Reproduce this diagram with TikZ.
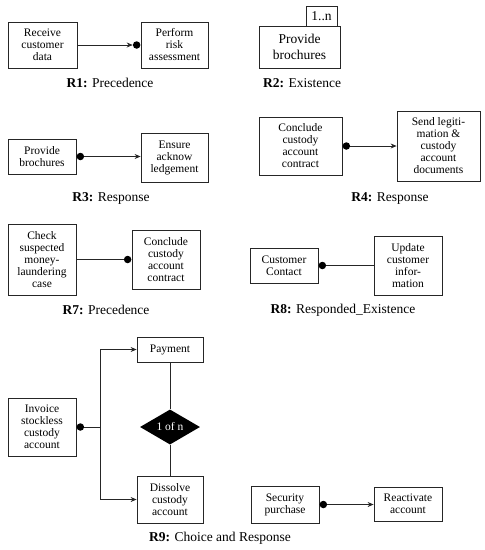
\documentclass[tikz,border=0pt]{standalone}
\usepackage{fontspec}
\setmainfont{Liberation Serif}
\usetikzlibrary{arrows.meta,shapes.geometric}
\tikzset{
  box/.style={draw=black!85,line width=0.8pt,inner sep=0pt,align=center,font=\fontsize{11.5}{12}\selectfont},
  bigbox/.style={box,font=\fontsize{13.5}{15.5}\selectfont},
  dot/.style={circle,fill=black,inner sep=0pt,minimum size=7.5pt},
  conn/.style={line width=0.7pt,black!85},
  arr/.style={conn,-{Stealth[length=6pt,width=5pt]}},
  lbl/.style={font=\fontsize{13.5}{15}\selectfont,inner sep=0pt},
  choice/.style={diamond,fill=black,text=white,inner sep=0pt,minimum width=60pt,minimum height=30pt,font=\fontsize{11.5}{12}\selectfont}
}
\begin{document}
\begin{tikzpicture}[x=1pt,y=-1pt]
\useasboundingbox (0,0) rectangle (485,550);
% R1
\node[box,minimum width=69pt,minimum height=46pt] (r1a) at (42.5,45) {Receive\\customer\\data};
\node[box,minimum width=67pt,minimum height=46pt] (r1b) at (174.5,45) {Perform\\risk\\assessment};
\node[dot,anchor=east] (r1d) at (r1b.west) {};
\draw[arr] (r1a.east) -- (r1d.west);
\node[lbl] (r1l) at (110,83) {\textbf{R1:} Precedence};
% R2
\node[bigbox,minimum width=81pt,minimum height=42pt] (r2a) at (299.5,47) {Provide\\brochures};
\node[bigbox,minimum width=31pt,minimum height=20pt] (r2n) at (321.5,16) {1..n};
\node[lbl] (r2l) at (302,83) {\textbf{R2:} Existence};
% R3
\node[box,minimum width=68pt,minimum height=35pt] (r3a) at (42,156.5) {Provide\\brochures};
\node[box,minimum width=67pt,minimum height=49pt] (r3b) at (174.5,157.5) {Ensure\\acknow\\ledgement};
\node[dot,anchor=west] (r3d) at (r3a.east) {};
\draw[arr] (r3d.east) -- (r3d.east -| r3b.west);
\node[lbl] (r3l) at (111,198) {\textbf{R3:} Response};
% R4
\node[box,minimum width=83pt,minimum height=58pt] (r4a) at (300.5,146) {Conclude\\custody\\account\\contract};
\node[box,minimum width=83pt,minimum height=70pt] (r4b) at (438.5,146) {Send legiti-\\mation \&\\custody\\account\\documents};
\node[dot,anchor=west] (r4d) at (r4a.east) {};
\draw[arr] (r4d.east) -- (r4b.west);
\node[lbl] (r4l) at (390,198) {\textbf{R4:} Response};
% R7
\node[box,minimum width=68pt,minimum height=71pt] (r7a) at (42,259.5) {Check\\suspected\\money-\\laundering\\case};
\node[box,minimum width=68pt,minimum height=59pt] (r7b) at (166,259.5) {Conclude\\custody\\account\\contract};
\node[dot,anchor=east] (r7d) at (r7b.west) {};
\draw[conn] (r7a.east) -- (r7d.west);
\node[lbl] (r7l) at (106,310) {\textbf{R7:} Precedence};
% R8
\node[box,minimum width=68pt,minimum height=35pt] (r8a) at (284,265.5) {Customer\\Contact};
\node[box,minimum width=68pt,minimum height=59pt] (r8b) at (408,265.5) {Update\\customer\\infor-\\mation};
\node[dot,anchor=west] (r8d) at (r8a.east) {};
\draw[conn] (r8d.east) -- (r8b.west);
\node[lbl] (r8l) at (343,310) {\textbf{R8:} Responded\_Existence};
% R9
\node[box,minimum width=66pt,minimum height=25pt] (pay) at (170,349.5) {Payment};
\node[box,minimum width=68pt,minimum height=58pt] (inv) at (42,427) {Invoice\\stockless\\custody\\account};
\node[box,minimum width=66pt,minimum height=47pt] (dis) at (170,499.5) {Dissolve\\custody\\account};
\node[choice] (ch) at (170,427) {1 of n};
\node[dot,anchor=west] (invd) at (inv.east) {};
\coordinate (j) at (100,427);
\draw[conn] (invd.east) -- (j);
\draw[arr] (j) |- (pay.west);
\draw[arr] (j) |- (dis.west);
\draw[conn] (pay.south) -- (ch.north);
\draw[conn] (ch.south) -- (dis.north);
\node[box,minimum width=68pt,minimum height=37pt] (sec) at (285,504.5) {Security\\purchase};
\node[box,minimum width=68pt,minimum height=34pt] (rea) at (408,504) {Reactivate\\account};
\node[dot,anchor=west] (secd) at (sec.east) {};
\draw[arr] (secd.east) -- (secd.east -| rea.west);
\node[lbl] (r9l) at (220,538) {\textbf{R9:} Choice and Response};
\end{tikzpicture}
\end{document}
